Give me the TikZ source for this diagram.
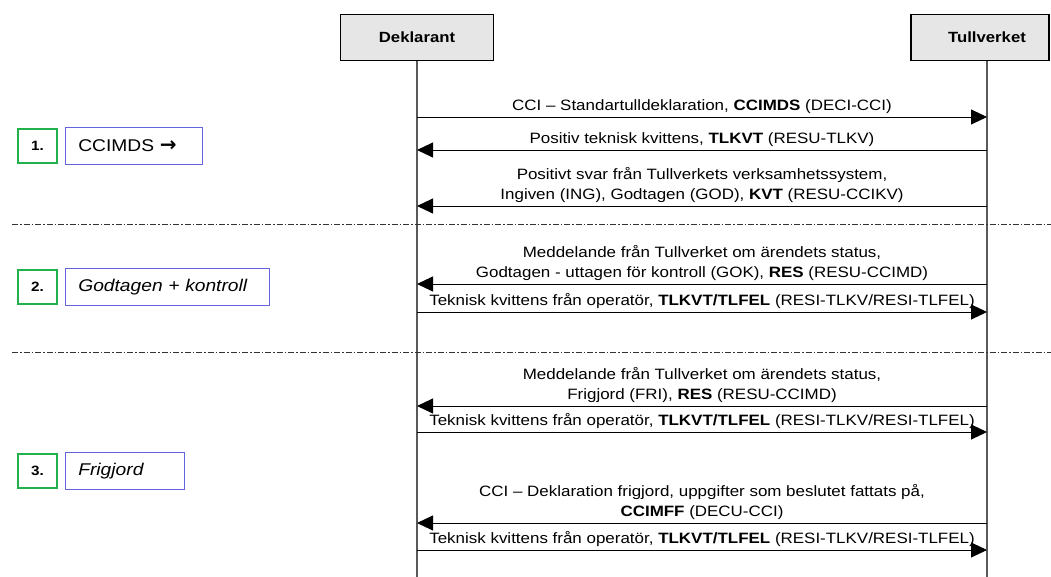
\documentclass[tikz,border=0pt]{standalone}
\usepackage{fontspec}
\setmainfont{Liberation Sans}[FakeStretch=1.13]
\newfontfamily\arrowfont{DejaVu Sans}
\usetikzlibrary{arrows.meta,positioning}
\definecolor{actorgray}{RGB}{230,230,230}
\definecolor{stepgreen}{RGB}{34,177,76}
\definecolor{stepblue}{RGB}{100,100,220}
\tikzset{
  actor/.style={draw=black,line width=1.5pt,fill=actorgray,minimum height=46pt,font=\fontsize{14.8}{17}\selectfont\bfseries},
  lifeline/.style={draw=black!65,line width=1.4pt},
  msg/.style={draw=black,line width=0.9pt,-{Triangle[length=16pt,width=15pt]}},
  msgtext/.style={midway,above,align=center,inner sep=2.5pt,font=\fontsize{15}{20}\selectfont},
  phaseline/.style={draw=black!80,line width=0.9pt,dash pattern=on 6pt off 2pt on 1.5pt off 2pt},
  stepnr/.style={draw=stepgreen,line width=1.5pt,minimum width=39pt,minimum height=34pt,font=\fontsize{13.5}{14}\selectfont\bfseries},
  stepname/.style={draw=stepblue,line width=1.2pt,minimum height=37pt,inner xsep=13pt,align=left,font=\fontsize{17}{18}\selectfont}
}

\begin{document}
\begin{tikzpicture}[x=1pt,y=-1pt]
\useasboundingbox (0,0) rectangle (1051,577);

% actors and lifelines
\node (dek) [actor,minimum width=153pt] at (417,37.5) {Deklarant};
\node (tull) [actor,minimum width=138pt] at (980,37.5) {\hspace*{14pt}Tullverket};
\coordinate (dekend) at (417,577);
\coordinate (tullend) at (987,577);
\draw[lifeline] (dek.south) -- (dekend);
\draw[lifeline] (tullend |- tull.south) -- (tullend);

% phase separators
\coordinate (sep1a) at (12,224);
\coordinate (sep1b) at (1051,224);
\coordinate (sep2a) at (12,352);
\coordinate (sep2b) at (1051,352);
\draw[phaseline] (sep1a) -- (sep1b);
\draw[phaseline] (sep2a) -- (sep2b);

% steps
\node (s1) [stepnr] at (37.5,146) {1.};
\node (s1name) [stepname,text width=111pt,right=7pt of s1] {CCIMDS {\arrowfont\bfseries\fontsize{20}{18}\selectfont →}};
\node (s2) [stepnr] at (37.5,287) {2.};
\node (s2name) [stepname,text width=178pt,right=7pt of s2] {\itshape Godtagen + kontroll};
\node (s3) [stepnr] at (37.5,471) {3.};
\node (s3name) [stepname,text width=93pt,right=7pt of s3] {\itshape Frigjord};

% messages
\coordinate (m1) at (0,117);
\coordinate (m2) at (0,150);
\coordinate (m3) at (0,206);
\coordinate (m4) at (0,284);
\coordinate (m5) at (0,312);
\coordinate (m6) at (0,406);
\coordinate (m7) at (0,432);
\coordinate (m8) at (0,523);
\coordinate (m9) at (0,550);

\draw[msg] (dekend |- m1) -- node[msgtext] {CCI – Standartulldeklaration, \textbf{CCIMDS} (DECI-CCI)} (tullend |- m1);
\draw[msg] (tullend |- m2) -- node[msgtext] {Positiv teknisk kvittens, \textbf{TLKVT} (RESU-TLKV)} (dekend |- m2);
\draw[msg] (tullend |- m3) -- node[msgtext] {Positivt svar från Tullverkets verksamhetssystem,\\Ingiven (ING), Godtagen (GOD), \textbf{KVT} (RESU-CCIKV)} (dekend |- m3);

\draw[msg] (tullend |- m4) -- node[msgtext] {Meddelande från Tullverket om ärendets status,\\Godtagen - uttagen för kontroll (GOK), \textbf{RES} (RESU-CCIMD)} (dekend |- m4);
\draw[msg] (dekend |- m5) -- node[msgtext] {Teknisk kvittens från operatör, \textbf{TLKVT/TLFEL} (RESI-TLKV/RESI-TLFEL)} (tullend |- m5);

\draw[msg] (tullend |- m6) -- node[msgtext] {Meddelande från Tullverket om ärendets status,\\Frigjord (FRI), \textbf{RES} (RESU-CCIMD)} (dekend |- m6);
\draw[msg] (dekend |- m7) -- node[msgtext] {Teknisk kvittens från operatör, \textbf{TLKVT/TLFEL} (RESI-TLKV/RESI-TLFEL)} (tullend |- m7);

\draw[msg] (tullend |- m8) -- node[msgtext] {CCI – Deklaration frigjord, uppgifter som beslutet fattats på,\\\textbf{CCIMFF} (DECU-CCI)} (dekend |- m8);
\draw[msg] (dekend |- m9) -- node[msgtext] {Teknisk kvittens från operatör, \textbf{TLKVT/TLFEL} (RESI-TLKV/RESI-TLFEL)} (tullend |- m9);
\end{tikzpicture}
\end{document}
